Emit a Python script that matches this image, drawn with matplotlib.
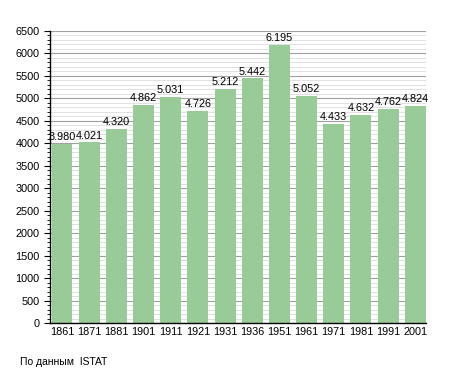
import matplotlib
matplotlib.use("Agg")
import matplotlib.pyplot as plt
from matplotlib.ticker import MultipleLocator

plt.rcParams["font.family"] = ["Liberation Sans", "DejaVu Sans"]

years = ["1861", "1871", "1881", "1901", "1911", "1921", "1931", "1936",
         "1951", "1961", "1971", "1981", "1991", "2001"]
population = [3980, 4021, 4320, 4862, 5031, 4726, 5212, 5442,
              6195, 5052, 4433, 4632, 4762, 4824]
labels = [f"{v:,}".replace(",", ".") for v in population]

fig = plt.figure(figsize=(4.55, 3.73), dpi=100)
ax = fig.add_axes([0.110, 0.134, 0.826, 0.783])

x = list(range(len(years)))
ax.set_ylim(0, 6500)
ax.set_xlim(-0.44, 13.39)
ax.yaxis.set_major_locator(MultipleLocator(500))
ax.yaxis.set_minor_locator(MultipleLocator(100))
ax.grid(axis="y", which="major", color="#a0a0a0", linewidth=0.8, zorder=0)
ax.grid(axis="y", which="minor", color="#dcdcdc", linewidth=0.6, zorder=0)
ax.set_axisbelow(True)

ax.bar(x, population, width=0.77, color="#98cb98", zorder=2)
for xi, v, lab in zip(x, population, labels):
    ax.text(xi, v + 40, lab, ha="center", va="bottom", fontsize=7.8, color="black")

ax.set_xticks(x)
ax.set_xticklabels(years, fontsize=7.8)
ax.tick_params(axis="x", length=0, pad=3)
ax.tick_params(axis="y", which="major", labelsize=7.8, length=4, width=0.8)
ax.tick_params(axis="y", which="minor", length=2, width=0.6)
for s in ["top", "right"]:
    ax.spines[s].set_visible(False)
ax.spines["left"].set_linewidth(1.0)
ax.spines["bottom"].set_linewidth(1.0)

fig.text(20 / 455, 1 - 362 / 373, "По данным  ISTAT", fontsize=7.5, va="center", ha="left")

fig.savefig("out.png", dpi=100)
